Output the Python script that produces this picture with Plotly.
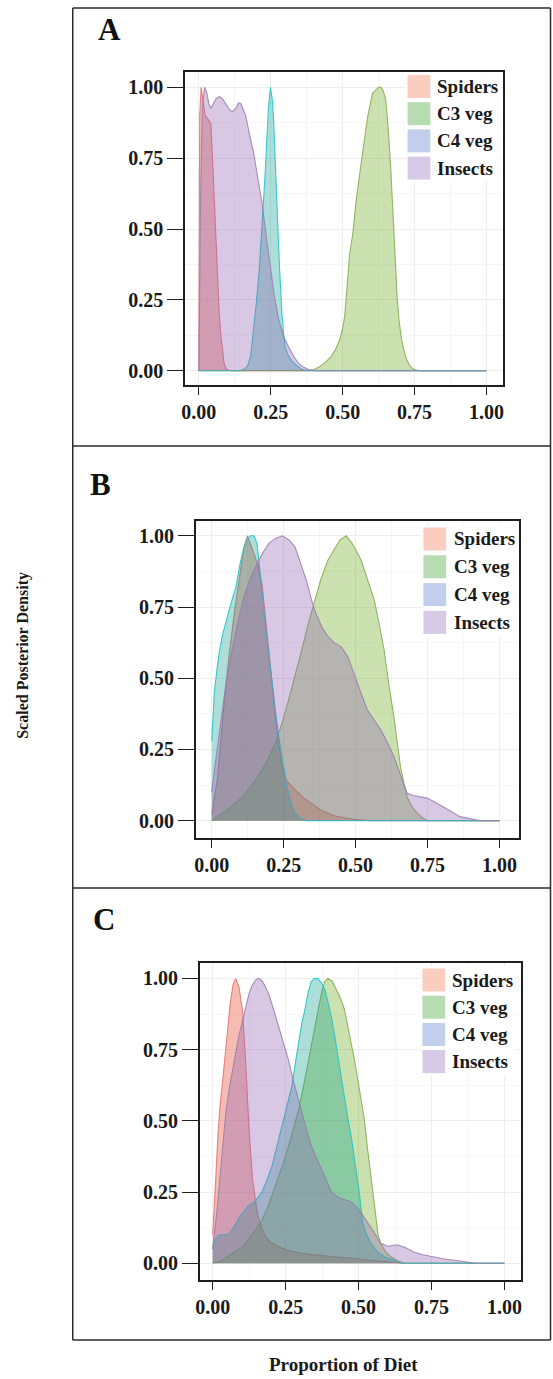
import plotly.graph_objects as go

W, H = 553, 1379
SERIF = "Liberation Serif"

sources = ["Spiders", "C3 veg", "C4 veg", "Insects"]
fill_colors = ["rgba(229,64,35,0.35)", "rgba(98,164,12,0.33)", "rgba(6,155,141,0.33)", "rgba(144,98,178,0.35)"]
line_colors = ["rgba(225,110,115,0.85)", "rgba(130,170,80,0.85)", "rgba(40,200,200,0.95)", "rgba(150,125,175,0.85)"]
key_colors = ["rgb(251,205,190)", "rgb(184,220,178)", "rgb(193,206,236)", "rgb(214,202,230)"]
tick_vals = [0, 0.25, 0.5, 0.75, 1.0]
tick_text = ["0.00", "0.25", "0.50", "0.75", "1.00"]
panel_labels = ["A", "B", "C"]

# ---------------- Panel A ----------------
spiders_A_x = [0, 0.003, 0.008, 0.014, 0.022, 0.031, 0.042, 0.048, 0.054, 0.06, 0.065, 0.071, 0.077, 0.083, 0.088, 0.095, 0.11, 1.0]
spiders_A_y = [0, 0.9, 1.0, 0.95, 0.9, 0.89, 0.87, 0.74, 0.59, 0.44, 0.3, 0.2, 0.12, 0.06, 0.026, 0.006, 0, 0]
c3_A_x = [0, 0.38, 0.4, 0.42, 0.44, 0.46, 0.475, 0.49, 0.5, 0.507, 0.515, 0.524, 0.535, 0.547, 0.56, 0.573, 0.587, 0.596, 0.604, 0.615, 0.625, 0.633, 0.642, 0.65, 0.658, 0.667, 0.673, 0.679, 0.685, 0.69, 0.697, 0.705, 0.713, 0.722, 0.736, 0.75, 0.77, 1.0]
c3_A_y = [0, 0, 0.004, 0.014, 0.03, 0.05, 0.075, 0.11, 0.15, 0.19, 0.29, 0.41, 0.48, 0.6, 0.7, 0.8, 0.896, 0.94, 0.979, 0.99, 1.0, 1.0, 0.985, 0.955, 0.86, 0.72, 0.6, 0.485, 0.36, 0.25, 0.17, 0.11, 0.073, 0.04, 0.014, 0.003, 0, 0]
c4_A_x = [0, 0.14, 0.155, 0.169, 0.18, 0.19, 0.2, 0.21, 0.218, 0.226, 0.232, 0.237, 0.243, 0.249, 0.255, 0.26, 0.266, 0.272, 0.277, 0.281, 0.285, 0.289, 0.295, 0.3, 0.31, 0.323, 0.34, 0.358, 0.38, 1.0]
c4_A_y = [0, 0, 0.004, 0.015, 0.05, 0.14, 0.24, 0.355, 0.48, 0.61, 0.72, 0.83, 0.94, 1.0, 0.96, 0.885, 0.75, 0.59, 0.45, 0.355, 0.27, 0.2, 0.13, 0.085, 0.055, 0.035, 0.018, 0.005, 0, 0]
insects_A_x = [0, 0.006, 0.012, 0.02, 0.028, 0.035, 0.042, 0.05, 0.06, 0.071, 0.082, 0.095, 0.107, 0.117, 0.128, 0.138, 0.146, 0.155, 0.163, 0.175, 0.191, 0.205, 0.22, 0.235, 0.249, 0.263, 0.278, 0.295, 0.312, 0.33, 0.346, 0.365, 0.38, 0.4, 1.0]
insects_A_y = [0, 0.6, 0.93, 1.0, 0.98, 0.94, 0.926, 0.94, 0.96, 0.967, 0.96, 0.94, 0.92, 0.914, 0.925, 0.945, 0.943, 0.92, 0.9, 0.84, 0.767, 0.68, 0.59, 0.47, 0.355, 0.26, 0.179, 0.12, 0.085, 0.05, 0.027, 0.012, 0.005, 0, 0]

# ---------------- Panel B ----------------
spiders_B_x = [0, 0.02, 0.04, 0.06, 0.08, 0.1, 0.112, 0.124, 0.141, 0.16, 0.175, 0.187, 0.198, 0.21, 0.221, 0.233, 0.244, 0.26, 0.29, 0.32, 0.347, 0.375, 0.404, 0.43, 0.46, 0.5, 0.55, 1.0]
spiders_B_y = [0.02, 0.15, 0.38, 0.58, 0.74, 0.88, 0.96, 1.0, 0.95, 0.9, 0.83, 0.72, 0.6, 0.48, 0.365, 0.27, 0.19, 0.14, 0.108, 0.08, 0.061, 0.04, 0.026, 0.016, 0.01, 0.004, 0, 0]
c3_B_x = [0, 0.038, 0.07, 0.107, 0.14, 0.175, 0.2, 0.221, 0.245, 0.267, 0.29, 0.313, 0.335, 0.358, 0.38, 0.404, 0.425, 0.445, 0.467, 0.49, 0.519, 0.54, 0.565, 0.58, 0.599, 0.615, 0.633, 0.645, 0.656, 0.668, 0.679, 0.695, 0.714, 0.73, 0.75, 1.0]
c3_B_y = [0, 0.026, 0.05, 0.084, 0.125, 0.178, 0.225, 0.272, 0.345, 0.424, 0.51, 0.6, 0.69, 0.774, 0.85, 0.915, 0.95, 0.985, 1.0, 0.97, 0.915, 0.85, 0.774, 0.7, 0.6, 0.48, 0.365, 0.27, 0.19, 0.13, 0.084, 0.05, 0.026, 0.012, 0, 0]
c4_B_x = [0, 0.009, 0.018, 0.026, 0.037, 0.049, 0.066, 0.084, 0.098, 0.112, 0.124, 0.135, 0.147, 0.158, 0.17, 0.185, 0.198, 0.21, 0.222, 0.233, 0.247, 0.261, 0.275, 0.29, 0.31, 0.33, 1.0]
c4_B_y = [0.28, 0.45, 0.53, 0.59, 0.65, 0.7, 0.76, 0.82, 0.9, 0.96, 0.99, 1.0, 1.0, 0.97, 0.84, 0.7, 0.59, 0.48, 0.38, 0.295, 0.2, 0.12, 0.065, 0.026, 0.008, 0, 0]
insects_B_x = [0, 0.003, 0.015, 0.026, 0.038, 0.049, 0.065, 0.08, 0.095, 0.11, 0.13, 0.147, 0.164, 0.18, 0.2, 0.22, 0.245, 0.27, 0.29, 0.31, 0.33, 0.347, 0.365, 0.385, 0.404, 0.425, 0.45, 0.473, 0.495, 0.519, 0.54, 0.565, 0.588, 0.61, 0.633, 0.656, 0.679, 0.7, 0.725, 0.748, 0.77, 0.794, 0.82, 0.84, 0.862, 0.9, 0.93, 1.0]
insects_B_y = [0.1, 0.13, 0.22, 0.31, 0.4, 0.48, 0.57, 0.645, 0.716, 0.78, 0.84, 0.88, 0.915, 0.945, 0.975, 0.99, 1.0, 0.985, 0.96, 0.9, 0.84, 0.774, 0.72, 0.675, 0.646, 0.625, 0.61, 0.575, 0.51, 0.447, 0.39, 0.35, 0.318, 0.275, 0.225, 0.16, 0.096, 0.088, 0.083, 0.079, 0.068, 0.055, 0.04, 0.028, 0.014, 0.005, 0, 0]

# ---------------- Panel C ----------------
spiders_C_x = [0, 0.006, 0.012, 0.018, 0.025, 0.034, 0.042, 0.05, 0.06, 0.07, 0.079, 0.09, 0.102, 0.113, 0.124, 0.136, 0.153, 0.167, 0.181, 0.2, 0.226, 0.26, 0.305, 0.35, 0.4, 0.45, 0.5, 0.55, 0.6, 0.65, 1.0]
spiders_C_y = [0.1, 0.2, 0.33, 0.45, 0.55, 0.64, 0.73, 0.82, 0.91, 0.98, 1.0, 0.97, 0.89, 0.71, 0.48, 0.3, 0.175, 0.125, 0.093, 0.073, 0.058, 0.045, 0.035, 0.03, 0.025, 0.02, 0.016, 0.01, 0.005, 0, 0]
c3_C_x = [0, 0.03, 0.06, 0.102, 0.135, 0.169, 0.19, 0.215, 0.238, 0.26, 0.277, 0.294, 0.311, 0.328, 0.345, 0.361, 0.373, 0.384, 0.395, 0.41, 0.425, 0.438, 0.452, 0.47, 0.486, 0.503, 0.52, 0.531, 0.542, 0.55, 0.559, 0.567, 0.576, 0.593, 0.61, 0.635, 0.66, 1.0]
c3_C_y = [0, 0.01, 0.03, 0.058, 0.1, 0.152, 0.2, 0.27, 0.34, 0.41, 0.47, 0.538, 0.62, 0.713, 0.8, 0.89, 0.95, 0.99, 1.0, 0.99, 0.96, 0.93, 0.89, 0.8, 0.713, 0.61, 0.503, 0.4, 0.304, 0.23, 0.152, 0.1, 0.07, 0.04, 0.023, 0.008, 0, 0]
c4_C_x = [0, 0.006, 0.023, 0.045, 0.056, 0.075, 0.09, 0.102, 0.12, 0.147, 0.169, 0.185, 0.203, 0.22, 0.237, 0.254, 0.271, 0.283, 0.294, 0.305, 0.316, 0.327, 0.338, 0.35, 0.36, 0.372, 0.385, 0.396, 0.407, 0.418, 0.43, 0.44, 0.452, 0.463, 0.475, 0.489, 0.503, 0.514, 0.528, 0.542, 0.565, 0.588, 0.62, 0.65, 1.0]
c4_C_y = [0.05, 0.08, 0.1, 0.1, 0.105, 0.13, 0.16, 0.175, 0.2, 0.22, 0.25, 0.29, 0.34, 0.41, 0.48, 0.55, 0.62, 0.7, 0.77, 0.84, 0.89, 0.95, 0.99, 1.0, 1.0, 0.985, 0.96, 0.91, 0.865, 0.8, 0.72, 0.655, 0.58, 0.51, 0.444, 0.35, 0.246, 0.14, 0.1, 0.07, 0.04, 0.023, 0.01, 0, 0]
insects_C_x = [0, 0.006, 0.014, 0.023, 0.034, 0.045, 0.056, 0.068, 0.08, 0.09, 0.102, 0.113, 0.124, 0.135, 0.147, 0.158, 0.17, 0.181, 0.192, 0.209, 0.226, 0.243, 0.26, 0.277, 0.294, 0.316, 0.339, 0.362, 0.384, 0.407, 0.43, 0.452, 0.475, 0.5, 0.52, 0.537, 0.553, 0.565, 0.576, 0.6, 0.633, 0.66, 0.689, 0.72, 0.746, 0.79, 0.836, 0.87, 0.9, 1.0]
insects_C_y = [0.05, 0.1, 0.18, 0.28, 0.41, 0.53, 0.61, 0.68, 0.75, 0.8, 0.85, 0.9, 0.945, 0.975, 0.995, 1.0, 0.99, 0.97, 0.945, 0.89, 0.83, 0.77, 0.713, 0.64, 0.57, 0.49, 0.41, 0.355, 0.304, 0.25, 0.232, 0.225, 0.215, 0.19, 0.16, 0.135, 0.11, 0.088, 0.07, 0.06, 0.065, 0.055, 0.04, 0.03, 0.024, 0.016, 0.01, 0.005, 0, 0]

panels = [
    [(spiders_A_x, spiders_A_y), (c3_A_x, c3_A_y), (c4_A_x, c4_A_y), (insects_A_x, insects_A_y)],
    [(spiders_B_x, spiders_B_y), (c3_B_x, c3_B_y), (c4_B_x, c4_B_y), (insects_B_x, insects_B_y)],
    [(spiders_C_x, spiders_C_y), (c3_C_x, c3_C_y), (c4_C_x, c4_C_y), (insects_C_x, insects_C_y)],
]

# ---------------- layout geometry (pixels) ----------------
plot_px = [  # x0, x1, y0(top), y1(bottom)
    (182, 503, 72, 385),
    (193, 520, 521, 838),
    (197, 522, 963, 1280),
]
x_ranges = [[-0.048, 1.056], [-0.055, 1.069], [-0.044, 1.058]]
y_ranges = [[-0.0504, 1.054], [-0.061, 1.052], [-0.0586, 1.054]]
legend_px = [  # key left, text left, first row centre, row step
    (407, 435, 86.5, 27.2),
    (423, 452, 539, 27.8),
    (422, 450, 980, 27.2),
]
letter_px = [(92, 30), (84, 484), (87, 919)]
frame_rows = [8, 446, 888, 1340]
frame_x = (68.5, 551.5)


def fx(p):
    return p / W


def fy(p):
    return 1 - p / H


fig = go.Figure()
layout = dict(width=W, height=H, margin=dict(l=0, r=0, t=0, b=0),
              paper_bgcolor="white", plot_bgcolor="white", showlegend=False)

shapes = []
annotations = []

for i, panel in enumerate(panels):
    suffix = "" if i == 0 else str(i + 1)
    for j, (xs, ys) in enumerate(panel):
        fig.add_trace(go.Scatter(
            x=xs, y=ys, mode="lines", fill="tozeroy",
            fillcolor=fill_colors[j], line=dict(color=line_colors[j], width=1.1),
            name=sources[j], xaxis="x" + suffix, yaxis="y" + suffix,
            hoverinfo="skip"))
    x0, x1, y0, y1 = plot_px[i]
    axis_common = dict(
        showline=True, mirror=True, linecolor="#1e1e1e", linewidth=1.6,
        ticks="outside", tickwidth=1.4, tickcolor="#1e1e1e",
        tickvals=tick_vals, ticktext=tick_text,
        tickfont=dict(family=SERIF, size=20, color="#1a1a1a", weight="bold"),
        showgrid=True, gridcolor="#eeeeee", gridwidth=1, zeroline=False,
        minor=dict(showgrid=True, gridcolor="#f6f6f6", dtick=0.125, tick0=0.125),
        fixedrange=True,
    )
    layout["xaxis" + suffix] = dict(axis_common, domain=[fx(x0), fx(x1)],
                                    range=x_ranges[i], ticklen=8,
                                    anchor="y" + suffix)
    layout["yaxis" + suffix] = dict(axis_common, domain=[fy(y1), fy(y0)],
                                    range=y_ranges[i], ticklen=16,
                                    anchor="x" + suffix)

    # legend (keys + labels)
    kx, tx, r0, step = legend_px[i]
    ks = 23
    shapes.append(dict(type="rect", xref="paper", yref="paper", layer="above",
                       x0=fx(kx - 2), x1=fx(tx + 66), y0=fy(r0 - ks / 2 - 2),
                       y1=fy(r0 + 3 * step + ks / 2 + 2),
                       fillcolor="white", line=dict(width=0)))
    for j, name in enumerate(sources):
        rc = r0 + j * step
        shapes.append(dict(type="rect", xref="paper", yref="paper", layer="above",
                           x0=fx(kx), x1=fx(kx + ks), y0=fy(rc + ks / 2), y1=fy(rc - ks / 2),
                           fillcolor=key_colors[j], line=dict(width=0)))
        annotations.append(dict(text=name, xref="paper", yref="paper",
                                x=fx(tx), y=fy(rc), xanchor="left", yanchor="middle",
                                showarrow=False,
                                font=dict(family=SERIF, size=19, color="#1a1a1a", weight="bold")))
    lx, ly = letter_px[i]
    annotations.append(dict(text=panel_labels[i], xref="paper", yref="paper",
                            x=fx(lx), y=fy(ly), xanchor="left", yanchor="middle",
                            showarrow=False,
                            font=dict(family=SERIF, size=31, color="#111", weight="bold")))

# panel frames
for r in frame_rows:
    shapes.append(dict(type="line", xref="paper", yref="paper",
                       x0=fx(frame_x[0]), x1=fx(frame_x[1]), y0=fy(r), y1=fy(r),
                       line=dict(color="#2a2a2a", width=1.5)))
for xv in frame_x:
    shapes.append(dict(type="line", xref="paper", yref="paper",
                       x0=fx(xv), x1=fx(xv), y0=fy(frame_rows[0]), y1=fy(frame_rows[-1]),
                       line=dict(color="#2a2a2a", width=1.5)))

# shared axis titles
annotations.append(dict(text="Proportion of Diet", xref="paper", yref="paper",
                        x=fx(342), y=fy(1364), xanchor="center", yanchor="middle",
                        showarrow=False,
                        font=dict(family=SERIF, size=19, color="#1a1a1a", weight="bold")))
annotations.append(dict(text="Scaled Posterior Density", xref="paper", yref="paper",
                        x=fx(18), y=fy(655), xanchor="center", yanchor="middle",
                        textangle=-90, showarrow=False,
                        font=dict(family=SERIF, size=16, color="#1a1a1a", weight="bold")))

layout["shapes"] = shapes
layout["annotations"] = annotations
fig.update_layout(**layout)
fig.write_html("out.html")
